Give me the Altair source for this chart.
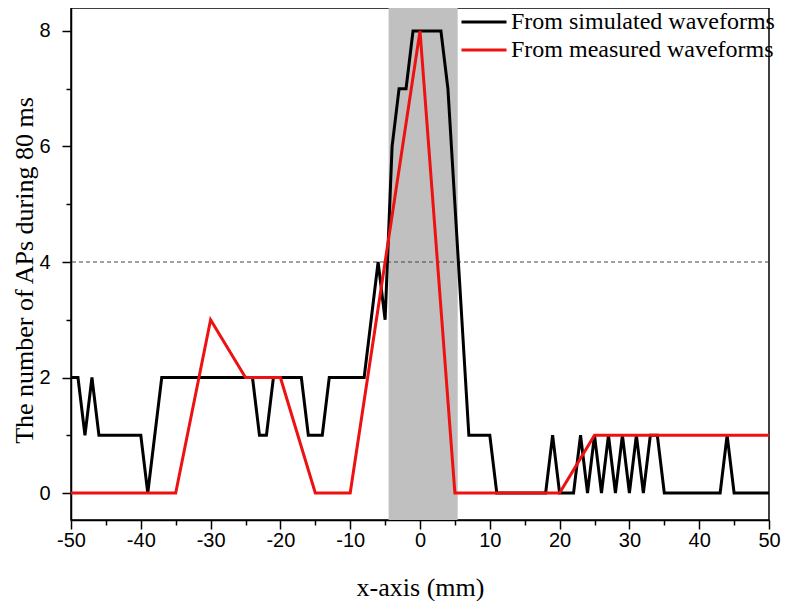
import altair as alt
import pandas as pd

# ---- data ----
sim_x = list(range(-50, 51))
sim_counts = [
    2, 2, 1, 2, 1, 1, 1, 1, 1, 1, 1, 0, 1, 2,          # -50 .. -37
    2, 2, 2, 2, 2, 2, 2, 2, 2, 2, 2, 2, 2,             # -36 .. -24
    1, 1, 2, 2, 2, 2, 2, 1, 1, 1, 2,                   # -23 .. -13
    2, 2, 2, 2, 2,                                     # -12 .. -8
    3, 4, 3, 6, 7, 7, 8, 8, 8, 8, 8, 7, 5, 3, 1, 1, 1, 1,  # -7 .. 10
    0, 0, 0, 0, 0, 0, 0, 0,                            # 11 .. 18
    1, 0, 0, 0, 1, 0, 1, 0, 1, 0, 1, 0, 1, 0, 1, 1, 0, # 19 .. 35
    0, 0, 0, 0, 0, 0, 0, 0,                            # 36 .. 43
    1, 0, 0, 0, 0, 0, 0,                               # 44 .. 50
]
meas_x = [-50, -45, -40, -35, -30, -25, -20, -15, -10, -5, 0, 5, 10, 15, 20, 25, 30, 35, 40, 45, 50]
meas_counts = [0, 0, 0, 0, 3, 2, 2, 0, 0, 4, 8, 0, 0, 0, 0, 1, 1, 1, 1, 1, 1]

series_names = ["From simulated waveforms", "From measured waveforms"]
series_colors = ["#000000", "#ee1111"]
band_start = [-4.5]
band_end = [5.4]
threshold = [4]

x_ticks = list(range(-50, 51, 5))
y_ticks = list(range(0, 9))

df_sim = pd.DataFrame({"x": sim_x, "y": sim_counts, "series": series_names[0]})
df_meas = pd.DataFrame({"x": meas_x, "y": meas_counts, "series": series_names[1]})
df_band = pd.DataFrame({"start": band_start, "end": band_end})
df_thr = pd.DataFrame({"y": threshold})

W, H = 698, 512
PAD_L, PAD_R, PAD_T, PAD_B = 63, 13, 0, 81

xscale = alt.Scale(domain=[-50, 50], nice=False, zero=False)
yscale = alt.Scale(domain=[-0.467, 8.398], nice=False, zero=False)

xaxis = alt.Axis(
    values=x_ticks,
    labelExpr="datum.value % 10 === 0 ? '' + datum.value : ''",
    tickSize={"condition": {"test": "datum.value % 10 === 0", "value": 9}, "value": 5},
    title="x-axis (mm)",
    titleX=W / 2,
    titleY=67,
    titleBaseline="middle",
    labelPadding=1,
    grid=False,
    labelOverlap=False,
    labelFlush=False,
)
yaxis = alt.Axis(
    values=y_ticks,
    labelExpr="datum.value % 2 === 0 ? '' + datum.value : ''",
    tickSize={"condition": {"test": "datum.value % 2 === 0", "value": 9}, "value": 5},
    title="The number of APs during 80 ms",
    titleX=-47,
    titleY=262,
    titleAngle=270,
    titleAlign="center",
    titleBaseline="middle",
    labelPadding=12,
    grid=False,
    labelOverlap=False,
)

def X(field):
    return alt.X(field, type="quantitative", scale=xscale, axis=xaxis)

def Y(field):
    return alt.Y(field, type="quantitative", scale=yscale, axis=yaxis)

color = alt.Color(
    "series:N",
    scale=alt.Scale(domain=series_names, range=series_colors),
    legend=alt.Legend(
        title=None,
        orient="none",
        legendX=389,
        legendY=0,
        direction="vertical",
        symbolType="stroke",
        symbolSize=2025,
        symbolStrokeWidth=3,
        labelFont="Liberation Serif",
        labelFontSize=24,
        labelColor="black",
        labelOffset=3,
        labelLimit=500,
        clipHeight=28,
        rowPadding=0,
        padding=0,
    ),
)

band = alt.Chart(df_band).mark_rect(color="#c0c0c0").encode(x=X("start"), x2="end")
rule = alt.Chart(df_thr).mark_rule(color="#444444", strokeDash=[4, 3], strokeWidth=1).encode(y=Y("y"))
sim_line = alt.Chart(df_sim).mark_line(strokeWidth=3).encode(x=X("x"), y=Y("y"), color=color)
meas_line = alt.Chart(df_meas).mark_line(strokeWidth=3).encode(x=X("x"), y=Y("y"), color=color)

chart = (
    alt.layer(band, rule, sim_line, meas_line)
    .properties(
        width=W,
        height=H,
        autosize=alt.AutoSizeParams(type="none"),
        padding={"left": PAD_L, "top": PAD_T, "right": PAD_R, "bottom": PAD_B},
        background="white",
    )
    .configure_view(stroke="black", strokeWidth=1.5)
    .configure_axis(
        domainColor="black",
        domainWidth=1.5,
        tickColor="black",
        tickWidth=1.5,
        labelFont="Liberation Sans",
        labelFontSize=20,
        labelColor="black",
        titleFont="Liberation Serif",
        titleFontSize=26,
        titleFontWeight="normal",
        titleColor="black",
    )
)

chart.save("out.html", embed_options={"renderer": "svg", "actions": False})
